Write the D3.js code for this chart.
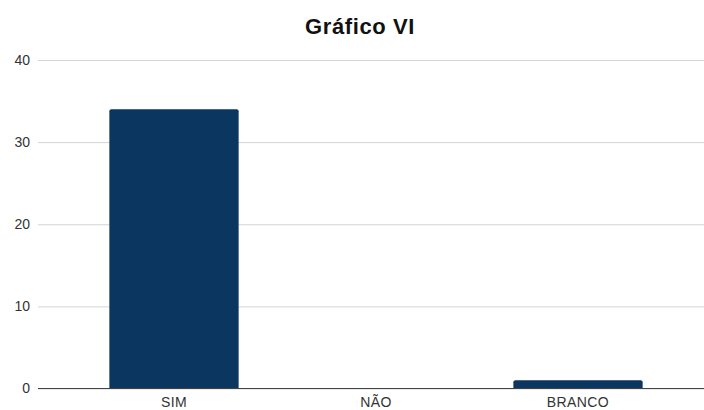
<!DOCTYPE html>
<html>
<head>
<meta charset="utf-8">
<script src="https://cdn.jsdelivr.net/npm/d3@7"></script>
<style>
  body { margin: 0; background: #fff; }
  svg { display: block; font-family: "Liberation Sans", Arial, sans-serif; }
</style>
</head>
<body>
<div id="chart"></div>
<script>
const categories = ["SIM", "NÃO", "BRANCO"];
const values = [34, 0, 1];
const yTicks = [0, 10, 20, 30, 40];
const title = "Gráfico VI";

const width = 704, height = 410;

// set the ranges
var x = d3.scaleBand()
  .domain(categories)
  .range([73, 679])
  .paddingInner(0.36)
  .paddingOuter(0.18);
var y = d3.scaleLinear().domain([0, 40]).range([388.5, 60]);

var svg = d3.select("#chart").append("svg")
  .attr("width", width)
  .attr("height", height);

// title
svg.append("text")
  .attr("x", 360)
  .attr("y", 34)
  .attr("text-anchor", "middle")
  .style("font-size", "22px")
  .style("font-weight", "bold")
  .style("letter-spacing", "0.6px")
  .attr("fill", "#111")
  .text(title);

// gridlines + y labels
var yAxis = svg.append("g")
  .attr("transform", "translate(38,0)")
  .call(d3.axisLeft(y).tickValues(yTicks).tickSize(-(width - 38)).tickPadding(8));
yAxis.select(".domain").remove();
yAxis.selectAll(".tick line").attr("stroke", "#d4d4d4");
yAxis.selectAll(".tick text")
  .attr("fill", "#333")
  .style("font-size", "14px")
  .attr("x", -8);

// bars
svg.append("g").selectAll("path")
  .data(categories.map(function (c, i) { return { cat: c, val: values[i] }; }).filter(function (d) { return d.val > 0; }))
  .join("path")
  .attr("fill", "#0a365f")
  .attr("d", function (d) {
    var x0 = x(d.cat), w = x.bandwidth(), y0 = y(d.val), y1 = y(0), r = 2;
    return "M" + x0 + "," + y1 + "V" + (y0 + r) + "Q" + x0 + "," + y0 + " " + (x0 + r) + "," + y0 +
      "H" + (x0 + w - r) + "Q" + (x0 + w) + "," + y0 + " " + (x0 + w) + "," + (y0 + r) + "V" + y1 + "Z";
  });

// x axis
var xAxis = svg.append("g")
  .attr("transform", "translate(0," + y(0) + ")")
  .call(d3.axisBottom(x).tickSize(0).tickPadding(9));
xAxis.select(".domain").remove();
xAxis.append("line")
  .attr("x1", 38).attr("x2", width)
  .attr("stroke", "#444").attr("stroke-width", 1.2);
xAxis.selectAll(".tick text")
  .attr("fill", "#333")
  .style("font-size", "14px")
  .style("letter-spacing", "0.4px");
</script>
</body>
</html>
